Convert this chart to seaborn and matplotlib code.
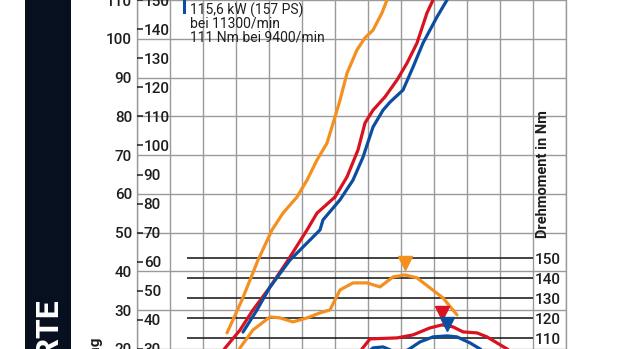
import matplotlib
matplotlib.use("Agg")
import numpy as np
import pandas as pd
import seaborn as sns
import matplotlib.pyplot as plt
import matplotlib.transforms as mtrans
from matplotlib.patches import Rectangle

# ---------------- data ----------------
rpm_grid = list(range(0, 14000, 1000))
kw_ticks = [20, 30, 40, 50, 60, 70, 80, 90, 100, 110]
ps_ticks = [30, 40, 50, 60, 70, 80, 90, 100, 110, 120, 130, 140, 150]
nm_ticks = [110, 120, 130, 140, 150]

# power (kW)
orange_p_rpm = [2727, 3182, 3667, 4091, 4424, 4848, 5152, 5455, 5758, 6061, 6152, 6364, 6667, 6909, 7152, 7424, 7576, 7750]
orange_p_kw = [26.4, 34.6, 44.5, 52.0, 56.2, 60.2, 64.4, 69.4, 73.6, 81.8, 84.3, 91.0, 96.8, 99.8, 101.7, 106.0, 109.2, 112.0]
red_p_rpm = [2500, 2667, 3121, 3515, 4030, 4576, 5152, 5455, 6000, 6364, 6697, 6909, 7152, 7515, 7879, 8182, 8485, 8788, 8970, 9150]
red_p_kw = [20.5, 22.6, 27.1, 32.1, 37.8, 44.5, 52.0, 56.2, 60.2, 65.2, 71.9, 78.6, 81.8, 85.1, 89.3, 93.5, 98.5, 106.0, 109.2, 112.0]
blue_p_rpm = [3212, 3636, 4030, 4636, 5545, 5636, 6152, 6545, 6848, 7152, 7455, 7667, 8061, 8364, 8667, 9091, 9394, 9550]
blue_p_kw = [26.6, 32.1, 37.8, 44.5, 52.0, 54.5, 59.5, 64.4, 70.1, 77.6, 81.8, 83.8, 86.8, 92.5, 98.5, 105.0, 109.2, 112.0]

# torque (Nm)
orange_t_rpm = [3000, 3121, 3515, 4030, 4333, 4727, 5152, 5545, 5848, 6152, 6545, 6970, 7364, 7758, 8121, 8485, 8879, 9273, 9697]
orange_t_nm = [101.0, 105.2, 114.2, 120.7, 120.2, 118.2, 120.2, 122.7, 124.2, 134.2, 137.7, 137.7, 135.7, 140.7, 141.7, 140.2, 135.2, 130.2, 121.7]
red_t_rpm = [6700, 6818, 7061, 7879, 8364, 8879, 9242, 9576, 9879, 10303, 10606, 10909, 11212, 11400]
red_t_nm = [100.0, 104.7, 109.7, 110.2, 111.7, 115.2, 116.7, 115.7, 113.2, 112.7, 110.7, 107.7, 104.7, 102.0]
blue_t_rpm = [7000, 7152, 7455, 7818, 8212, 8576, 8970, 9394, 9697, 10091, 10394, 10550]
blue_t_nm = [103.0, 105.2, 105.7, 103.2, 104.2, 108.2, 110.7, 111.2, 110.7, 107.7, 104.7, 102.5]

ORANGE = "#f39020"
RED = "#d9121f"
BLUE = "#0b4ea0"
TXT = "#1e1e1e"
GRID = "#9a9a9a"

legend_lines = ["115,6 kW (157 PS)", "bei 11300/min", "111 Nm bei 9400/min"]

# ---------------- style ----------------
sns.set_theme(style="white")
plt.rcParams["font.family"] = ["Roboto", "DejaVu Sans"]
plt.rcParams["lines.solid_joinstyle"] = "round"
plt.rcParams["lines.solid_capstyle"] = "round"

W, H = 620, 349
fig = plt.figure(figsize=(W / 100, H / 100), dpi=100)
fig.patch.set_facecolor("white")

ax = fig.add_axes([137 / W, 0, 429 / W, 1])
kw_lim = (22.39, 109.2)
ax.set_xlim(0, 13000)
ax.set_ylim(*kw_lim)
ax.set_xticks(rpm_grid)
ax.set_yticks(kw_ticks)
ax.grid(True, color=GRID, lw=1.0)
ax.tick_params(axis="x", length=0, labelbottom=False)
ax.tick_params(axis="y", length=0, pad=3.6, labelsize=11, labelcolor=TXT)
for s in ["top", "bottom"]:
    ax.spines[s].set_visible(False)
for s in ["left", "right"]:
    ax.spines[s].set_color(GRID)
    ax.spines[s].set_linewidth(1.0)
ax.set_zorder(0)

# PS scale (ticks drawn as dashes to the right of the left spine)
ax_ps = ax.twinx()
ax_ps.set_ylim(kw_lim[0] * 1.36, kw_lim[1] * 1.36)
ax_ps.set_yticks(ps_ticks)
for s in ax_ps.spines.values():
    s.set_visible(False)
ax_ps.spines["right"].set_position(("axes", 0))
ax_ps.tick_params(axis="y", direction="out", length=4.3, width=1.1, color=TXT,
                  pad=0.5, labelsize=11, labelcolor=TXT)
ax_ps.tick_params(axis="x", length=0, labelbottom=False)
ax_ps.set_zorder(1)

# Torque scale
ax_nm = ax.twinx()
ax_nm.set_ylim(104.65, 279.15)
ax_nm.set_yticks(nm_ticks)
for s in ax_nm.spines.values():
    s.set_visible(False)
ax_nm.spines["right"].set_position(("axes", 396 / 429))
ax_nm.tick_params(axis="y", length=0, pad=1.5, labelsize=11, labelcolor=TXT)
ax_nm.tick_params(axis="x", length=0, labelbottom=False)
ax_nm.hlines(nm_ticks, 1500, 12000, color="#111111", lw=1.1)
ax_nm.set_zorder(2)

for r, t, c in [(orange_t_rpm, orange_t_nm, ORANGE),
                (red_t_rpm, red_t_nm, RED),
                (blue_t_rpm, blue_t_nm, BLUE)]:
    sns.lineplot(x=r, y=t, ax=ax_nm, color=c, lw=2.3, sort=False)
    i = int(np.argmax(t))
    tr = mtrans.offset_copy(ax_nm.transData, fig=fig, x=0, y=12, units="dots")
    ax_nm.plot([r[i]], [t[i]], marker="v", ms=9.5, color=c, ls="none", transform=tr)
ax_nm.set_xlabel("")
ax_nm.set_ylabel("")

# Power curves on top
ax_pw = ax.twinx()
ax_pw.set_ylim(*kw_lim)
for s in ax_pw.spines.values():
    s.set_visible(False)
ax_pw.tick_params(axis="both", length=0, labelright=False, labelbottom=False, labelleft=False)
for r, p, c in [(orange_p_rpm, orange_p_kw, ORANGE),
                (red_p_rpm, red_p_kw, RED),
                (blue_p_rpm, blue_p_kw, BLUE)]:
    sns.lineplot(x=r, y=p, ax=ax_pw, color=c, lw=2.3, sort=False)
ax_pw.set_xlabel("")
ax_pw.set_ylabel("")
ax_pw.set_zorder(3)

for a in (ax, ax_ps, ax_nm):
    for lab in a.get_yticklabels():
        lab.set_fontweight("medium")

# ---------------- decorations ----------------
fig.add_artist(Rectangle((25 / W, 0), 46 / W, 1, transform=fig.transFigure,
                         facecolor="#06101f", edgecolor="none", zorder=0))
fig.text(48 / W, 1 - 298 / H, "MESSWERTE", rotation=90, ha="center", va="top",
         color="white", fontsize=23, fontweight="bold")
fig.text(95 / W, 1 - 337 / H, "Leistung", rotation=90, ha="center", va="top",
         color=TXT, fontsize=11, fontweight="bold")
fig.text(543 / W, 1 - 174 / H, "Drehmoment in Nm", rotation=90, ha="center",
         va="center", color=TXT, fontsize=10.5, fontweight="bold")

fig.add_artist(Rectangle((183 / W, 1 - 14 / H), 3 / W, 14 / H, transform=fig.transFigure,
                         facecolor=BLUE, edgecolor="none", zorder=5))
for k, line in enumerate(legend_lines):
    fig.text(190 / W, 1 - (10 + 13.5 * k) / H, line, ha="left", va="center",
             color=TXT, fontsize=10, zorder=5)

fig.savefig("out.png", dpi=100)
